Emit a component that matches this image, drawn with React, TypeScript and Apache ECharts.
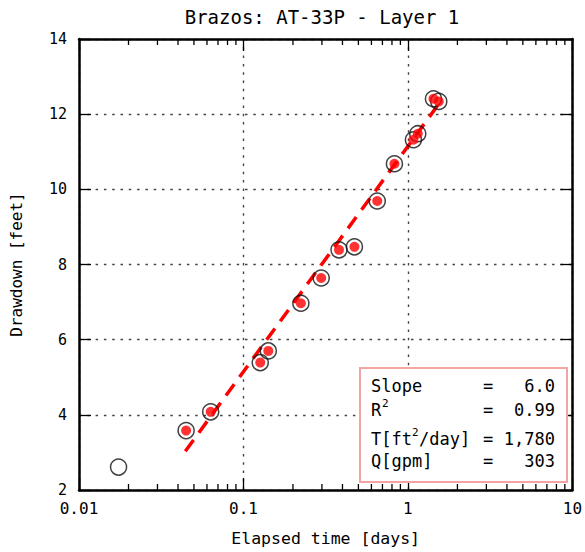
import React, { useEffect, useRef } from "react";
import * as echarts from "echarts";

const chartTitle = "Brazos: AT-33P - Layer 1";
const xAxisName = "Elapsed time [days]";
const yAxisName = "Drawdown [feet]";

const obsTime = [0.0174, 0.0448, 0.0632, 0.1265, 0.1416, 0.2234, 0.297, 0.381, 0.473, 0.651, 0.828, 1.08, 1.148, 1.43, 1.54];
const obsDrawdown = [2.61, 3.58, 4.08, 5.39, 5.7, 6.97, 7.64, 8.39, 8.47, 9.69, 10.68, 11.32, 11.48, 12.41, 12.34];
const usedInFit = [false, true, true, true, true, true, true, true, true, true, true, true, true, true, true];

const fitTime = [0.0443, 1.54];
const fitDrawdown = [3.03, 12.27];

const xTickLabels = ["0.01", "0.1", "1", "10"];
const xMinorTicks = [0.02, 0.03, 0.04, 0.05, 0.06, 0.07, 0.08, 0.09, 0.2, 0.3, 0.4, 0.5, 0.6, 0.7, 0.8, 0.9, 2, 3, 4, 5, 6, 7, 8, 9];

const statLabels = ["Slope", "R", "T[ft", "Q[gpm]"];
const statValues = ["6.0", "0.99", "1,780", "303"];

const MONO = "DejaVu Sans Mono";

export default function App() {
  const ref = useRef<HTMLDivElement>(null);

  useEffect(() => {
    document.body.style.margin = "0";
    const chart = echarts.init(ref.current!, null, { renderer: "svg" });

    const obsPts = obsTime.map((t, i) => [t, obsDrawdown[i]]);
    const fitPts = obsPts.filter((_, i) => usedInFit[i]);
    const fitLine = fitTime.map((t, i) => [t, fitDrawdown[i]]);

    const gridLine = { show: true, lineStyle: { color: "#444", width: 1.4, type: [2.5, 5.8] } };
    const frameLine = { show: true, onZero: false, lineStyle: { color: "#000", width: 2.5 } };

    const xBase = {
      type: "log",
      logBase: 10,
      min: 0.01,
      max: 10,
      axisLine: frameLine,
      axisTick: { show: true, inside: true, length: 12, lineStyle: { color: "#000", width: 1.3 } },
      minorTick: { show: false },
    };
    const yBase = {
      type: "value",
      min: 2,
      max: 14,
      interval: 2,
      axisLine: frameLine,
      axisTick: { show: true, inside: true, length: 12, lineStyle: { color: "#000", width: 1.3 } },
    };

    const row = (i: number) => [386, 410, 439, 461][i];
    const txt = (text: string, x: number, y: number, align: string, size = 17) => ({
      type: "text",
      x,
      y,
      z: 101,
      style: { text, fill: "#000", font: `${size}px "${MONO}"`, align, verticalAlign: "middle" },
    });

    chart.setOption({
      animation: false,
      grid: { left: 72, right: 12, top: 39, bottom: 60 },
      xAxis: [
        {
          ...xBase,
          position: "bottom",
          name: xAxisName,
          nameLocation: "middle",
          nameGap: 40,
          nameTextStyle: { fontFamily: MONO, fontSize: 16.5, color: "#000" },
          axisLabel: {
            show: true,
            margin: 10,
            fontFamily: MONO,
            fontSize: 16,
            color: "#000",
            showMinLabel: true,
            showMaxLabel: true,
            formatter: (v: number) => xTickLabels[Math.round(Math.log10(v)) + 2] ?? "",
          },
          splitLine: gridLine,
        },
        {
          ...xBase,
          position: "top",
          axisLabel: { show: false },
          splitLine: { show: false },
        },
      ],
      yAxis: [
        {
          ...yBase,
          position: "left",
          name: yAxisName,
          nameLocation: "middle",
          nameGap: 55,
          nameTextStyle: { fontFamily: MONO, fontSize: 16, color: "#000" },
          axisLabel: { show: true, margin: 12, fontFamily: MONO, fontSize: 15, color: "#000" },
          splitLine: gridLine,
        },
        {
          ...yBase,
          position: "right",
          axisLabel: { show: false },
          splitLine: { show: false },
        },
      ],
      series: [
        {
          type: "custom",
          xAxisIndex: 0,
          yAxisIndex: 0,
          silent: true,
          z: 1,
          data: xMinorTicks.map((v) => [v, 2]),
          renderItem: (params: any, api: any) => {
            const v = api.value(0);
            const pb = api.coord([v, 2]);
            const pt = api.coord([v, 14]);
            const st = { stroke: "#000", lineWidth: 1.3 };
            return {
              type: "group",
              children: [
                { type: "line", shape: { x1: pb[0], y1: pb[1], x2: pb[0], y2: pb[1] - 6 }, style: st },
                { type: "line", shape: { x1: pt[0], y1: pt[1], x2: pt[0], y2: pt[1] + 6 }, style: st },
              ],
            };
          },
        },
        {
          type: "line",
          data: fitLine,
          symbol: "none",
          z: 2,
          lineStyle: { color: "#ff0000", width: 3.5, type: [14, 9] },
        },
        {
          type: "scatter",
          data: obsPts,
          symbol: "circle",
          symbolSize: 16,
          z: 3,
          itemStyle: { color: "rgba(255,255,255,0)", borderColor: "#111", borderWidth: 1.5 },
        },
        {
          type: "scatter",
          data: fitPts,
          symbol: "circle",
          symbolSize: 10,
          z: 4,
          itemStyle: { color: "#ff0000" },
        },
      ],
      graphic: [
        {
          type: "text",
          x: 322,
          y: 17,
          style: { text: chartTitle, fill: "#000", font: `19px "${MONO}"`, align: "center", verticalAlign: "middle" },
        },
        {
          type: "rect",
          z: 100,
          shape: { x: 360, y: 368, width: 207, height: 114 },
          style: { fill: "#fff", stroke: "#f6a3a3", lineWidth: 2 },
        },
        txt(statLabels[0], 371, row(0), "left"),
        txt(statLabels[1], 371, row(1), "left"),
        txt("2", 382, row(1) - 7, "left", 11),
        txt(statLabels[2], 371, row(2), "left"),
        txt("2", 412, row(2) - 7, "left", 11),
        txt("/day]", 419, row(2), "left"),
        txt(statLabels[3], 371, row(3), "left"),
        ...[0, 1, 2, 3].map((i) => txt("=", 488, row(i), "center")),
        ...statValues.map((v, i) => txt(v, 555, row(i), "right")),
      ],
    });

    return () => chart.dispose();
  }, []);

  return <div ref={ref} style={{ width: 585, height: 552 }} />;
}
